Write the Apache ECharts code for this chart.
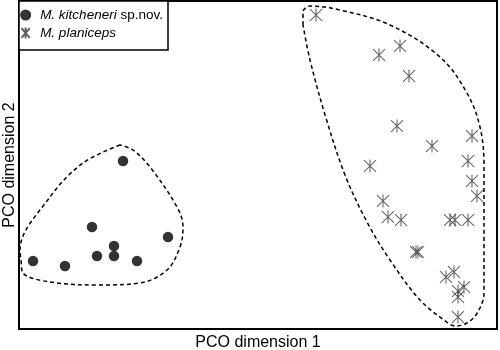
<!DOCTYPE html>
<html>
<head>
<meta charset="utf-8">
<script src="https://cdn.jsdelivr.net/npm/echarts@6/dist/echarts.min.js"></script>
<style>
  html, body { margin: 0; padding: 0; background: #fff; }
  #container { width: 500px; height: 350px; }
</style>
</head>
<body>
<div id="container"></div>
<script>
// PCO 得分 (任意单位)
var kitcheneriX = [1.04, 0.73, 1.49, 0.95, 0.78, 0.95, 1.18, 0.14, 0.46];
var kitcheneriY = [1.68, 1.02, 0.92, 0.83, 0.73, 0.73, 0.68, 0.68, 0.63];

var planicepsX = [2.97, 3.81, 3.60, 3.90, 3.78, 4.53, 4.13, 4.49, 3.51, 4.53, 4.58, 3.64, 3.69,
    3.82, 4.31, 4.36, 4.49, 3.97, 3.99, 4.27, 4.35, 4.45, 4.39, 4.39, 4.39];
var planicepsY = [3.14, 2.83, 2.74, 2.53, 2.03, 1.93, 1.83, 1.68, 1.63, 1.48, 1.33, 1.28, 1.12,
    1.09, 1.09, 1.09, 1.09, 0.77, 0.77, 0.52, 0.57, 0.42, 0.38, 0.32, 0.12];

// 手绘的包络线
var hullLeftX = [1.01, 0.64, 0.31, 0.01, 0.02, 0.04, 0.31, 0.81, 1.21, 1.48, 1.61, 1.64, 1.58, 1.31, 1.14, 1.01];
var hullLeftY = [1.84, 1.66, 1.32, 0.79, 0.69, 0.56, 0.47, 0.44, 0.46, 0.59, 0.82, 1.02, 1.22, 1.62, 1.79, 1.84];

var hullRightX = [2.84, 2.84, 2.91, 3.21, 3.71, 4.21, 4.48, 4.61, 4.65, 4.65, 4.65, 4.57, 4.46, 4.36,
    4.29, 4.01, 3.71, 3.48, 3.26, 3.07, 2.91, 2.84];
var hullRightY = [3.04, 3.17, 3.23, 3.19, 3.04, 2.72, 2.36, 2.02, 1.64, 0.89, 0.36, 0.14, 0.05, 0.03,
    0.06, 0.29, 0.69, 1.07, 1.54, 2.11, 2.69, 3.04];

var seriesNames = ["M. kitcheneri sp.nov.", "M. planiceps"];

var FONT = "Liberation Sans";
var starPath = "path://M0,-1L0,1M-0.75,-0.9L0.75,0.9M-0.75,0.9L0.75,-0.9";

function zip(xs, ys) {
    var r = [];
    for (var i = 0; i < xs.length; i++) {
        r.push([xs[i], ys[i]]);
    }
    return r;
}

var myChart = echarts.init(document.getElementById("container"));

myChart.setOption({
    animation: false,
    grid: {
        left: 19,
        right: 3,
        top: 1,
        bottom: 21,
        outerBoundsMode: "none",
        containLabel: false,
        show: true,
        borderColor: "#000",
        borderWidth: 2,
    },
    xAxis: {
        type: "value",
        min: 0,
        max: 4.78,
        name: "PCO dimension 1",
        nameLocation: "middle",
        nameGap: 6,
        nameTextStyle: { fontFamily: FONT, fontSize: 16, color: "#000", verticalAlign: "top" },
        axisLine: { show: false },
        axisTick: { show: false },
        axisLabel: { show: false },
        splitLine: { show: false },
    },
    yAxis: {
        type: "value",
        min: 0,
        max: 3.28,
        name: "PCO dimension 2",
        nameLocation: "middle",
        nameGap: 1,
        nameTextStyle: { fontFamily: FONT, fontSize: 16, color: "#000", verticalAlign: "bottom" },
        axisLine: { show: false },
        axisTick: { show: false },
        axisLabel: { show: false },
        splitLine: { show: false },
    },
    graphic: [{
        type: "rect",
        z: 3,
        shape: { x: 19, y: 1, width: 149, height: 49 },
        style: { fill: "#fff", stroke: "#000", lineWidth: 1.5 },
    }],
    legend: {
        z: 5,
        orient: "vertical",
        left: 19,
        top: 8,
        padding: 0,
        itemWidth: 19,
        itemHeight: 11,
        itemGap: 3,
        data: [
            { name: seriesNames[0], icon: "circle" },
            { name: seriesNames[1], icon: starPath },
        ],
        formatter: function(name) {
            if (name === seriesNames[0]) {
                return "{i|M. kitcheneri} sp.nov.";
            }
            return "{i|M. planiceps}";
        },
        textStyle: {
            fontFamily: FONT,
            fontSize: 13.5,
            color: "#000",
            rich: {
                i: { fontFamily: FONT, fontSize: 13.5, fontStyle: "italic", color: "#000" },
            },
        },
    },
    series: [{
            name: seriesNames[0],
            type: "scatter",
            symbol: "circle",
            symbolSize: 10.5,
            itemStyle: { color: "#000" },
            data: zip(kitcheneriX, kitcheneriY),
            z: 4,
        },
        {
            name: seriesNames[1],
            type: "scatter",
            symbol: starPath,
            symbolSize: [12, 13],
            itemStyle: { color: "none", borderColor: "#3a3a3a", borderWidth: 1.1 },
            data: zip(planicepsX, planicepsY),
            z: 4,
        },
        {
            name: "hullLeft",
            type: "line",
            smooth: 0.35,
            symbol: "none",
            silent: true,
            lineStyle: { color: "#000", width: 1.5, type: [4, 3] },
            data: zip(hullLeftX, hullLeftY),
            z: 2,
        },
        {
            name: "hullRight",
            type: "line",
            smooth: 0.35,
            symbol: "none",
            silent: true,
            lineStyle: { color: "#000", width: 1.5, type: [4, 3] },
            data: zip(hullRightX, hullRightY),
            z: 2,
        },
    ],
});
</script>
</body>
</html>
